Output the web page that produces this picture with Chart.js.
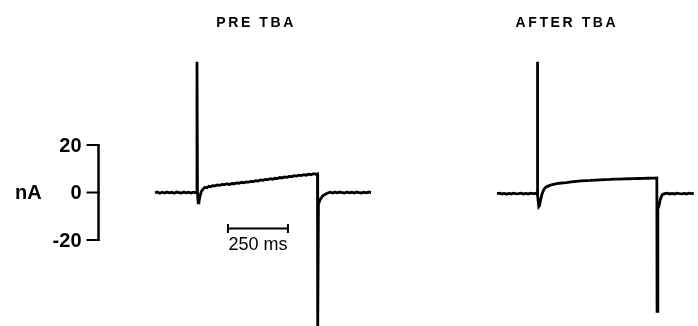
<!DOCTYPE html>
<html>
<head>
<meta charset="utf-8">
<script src="https://cdn.jsdelivr.net/npm/chart.js@4/dist/chart.umd.min.js"></script>
<style>
  html, body { margin: 0; padding: 0; background: #fff; }
  canvas { display: block; }
</style>
</head>
<body>
<canvas id="traces" width="698" height="326"></canvas>
<script>
// Whole-cell current sweeps (nA) against time (ms from sweep start)
const preTime = [
  0, 10, 20, 30, 40, 50, 60, 70, 80, 90, 100, 110, 120, 130, 140, 150, 160, 170,
  174, 175, 177, 180, 183, 187, 193, 200, 208, 216, 224, 232, 240, 250, 260, 270,
  280, 290, 300, 310, 320, 330, 340, 350, 360, 370, 380, 390, 400, 410, 420, 430,
  440, 450, 460, 470, 480, 490, 500, 510, 520, 530, 540, 550, 560, 570, 580, 590,
  600, 610, 620, 630, 640, 650, 660, 670, 677, 678, 681, 688, 698, 708, 720, 730,
  740, 750, 760, 770, 780, 790, 800, 810, 820, 830, 840, 850, 860, 870, 880, 890, 900
];
const preCurrent = [
  -0.1, 0.2, -0.3, 0.1, -0.2, 0.2, -0.1, 0.1, -0.3, 0.2, 0, -0.2, 0.2, -0.1, 0.1, -0.2, 0.1, 0,
  -0.1, 55, 0, -4.4, -4.0, -1.8, 0.4, 1.4, 2.2, 2.0, 2.6, 2.4, 2.9, 2.8, 3.2, 3.0,
  3.4, 3.3, 3.6, 3.4, 3.8, 3.7, 4.0, 3.9, 4.3, 4.1, 4.5, 4.4, 4.7, 4.6, 5.0, 4.8,
  5.3, 5.1, 5.5, 5.4, 5.8, 5.6, 6.0, 5.9, 6.3, 6.2, 6.6, 6.4, 6.8, 6.7, 7.1, 6.9,
  7.3, 7.1, 7.5, 7.3, 7.7, 7.5, 7.9, 7.7, 7.9, -58, -5.0, -3.0, -1.5, -0.8, -0.2, 0.1,
  -0.2, 0.2, -0.1, 0.2, 0, -0.2, 0.2, -0.1, 0.1, -0.2, 0.2, 0, -0.2, 0.1, -0.1, 0.2, 0
];

const afterTime = [
  0, 10, 20, 30, 40, 50, 60, 70, 80, 90, 100, 110, 120, 130, 140, 150, 160,
  167, 168, 170, 174, 177, 182, 188, 194, 200, 208, 218, 230, 245, 260, 275, 290,
  310, 330, 350, 370, 390, 410, 430, 450, 470, 490, 510, 530, 550, 570, 590, 610,
  630, 650, 666, 667, 670, 675, 680, 688, 698,
  710, 720, 730, 740, 750, 760, 770, 780, 790, 800, 810, 820, 830, 840
];
const afterCurrent = [
  -0.5, -0.3, -0.6, -0.4, -0.7, -0.4, -0.6, -0.3, -0.6, -0.5, -0.3, -0.6, -0.4, -0.6, -0.3, -0.5, -0.4,
  -0.5, 55, -1, -5.9, -5.5, -3.0, -0.5, 1.0, 1.9, 2.5, 2.9, 3.3, 3.6, 3.9, 4.1, 4.2,
  4.5, 4.7, 4.9, 5.0, 5.1, 5.25, 5.35, 5.45, 5.5, 5.6, 5.65, 5.75, 5.8, 5.85, 5.9, 5.95,
  6.0, 6.05, 6.1, -50, -7, -5.5, -3.0, -1.0, -0.5,
  -0.3, -0.6, -0.4, -0.6, -0.3, -0.5, -0.6, -0.4, -0.6, -0.3, -0.5, -0.4
];

const sweepTitles = ['PRE TBA', 'AFTER TBA'];
const yTickValues = [20, 0, -20];
const yUnit = 'nA';
const timeBarMs = 250;
const timeBarLabel = '250 ms';

// Second sweep is laid out to the right of the first on one shared time axis
const AFTER_OFFSET = 1425;

const toPoints = (ts, vs, shift) => ts.map((t, i) => ({ x: t + shift, y: vs[i] }));

const INK = '#000';

const annotations = {
  id: 'recordingAnnotations',
  afterDatasetsDraw(chart) {
    const { ctx } = chart;
    const xs = chart.scales.x;
    const ys = chart.scales.y;
    ctx.save();
    ctx.fillStyle = INK;
    ctx.strokeStyle = INK;

    // Sweep titles
    ctx.font = 'bold 14px "Liberation Sans", Arial, sans-serif';
    ctx.textAlign = 'center';
    ctx.textBaseline = 'middle';
    if ('letterSpacing' in ctx) ctx.letterSpacing = '2.6px';
    ctx.fillText(sweepTitles[0], xs.getPixelForValue(417) + 1, 23);
    ctx.fillText(sweepTitles[1], xs.getPixelForValue(AFTER_OFFSET + 287) + 1, 23);
    if ('letterSpacing' in ctx) ctx.letterSpacing = '0px';

    // Current calibration bar
    const barX = Math.round(xs.getPixelForValue(-237)) + 0.5;
    const yTop = ys.getPixelForValue(yTickValues[0]);
    const yBot = ys.getPixelForValue(yTickValues[yTickValues.length - 1]);
    ctx.lineWidth = 2.5;
    ctx.lineCap = 'butt';
    ctx.beginPath();
    ctx.moveTo(barX, yTop - 1);
    ctx.lineTo(barX, yBot + 1);
    ctx.stroke();
    ctx.lineWidth = 2;
    ctx.font = 'bold 20px "Liberation Sans", Arial, sans-serif';
    ctx.textAlign = 'right';
    yTickValues.forEach(v => {
      const py = ys.getPixelForValue(v);
      ctx.beginPath();
      ctx.moveTo(barX - 12, py);
      ctx.lineTo(barX + 1, py);
      ctx.stroke();
      ctx.fillText(String(v), barX - 17, py + 1);
    });
    ctx.textAlign = 'left';
    ctx.fillText(yUnit, 15, ys.getPixelForValue(0) + 1);

    // Time calibration bar
    const tx0 = xs.getPixelForValue(304);
    const tx1 = xs.getPixelForValue(304 + timeBarMs);
    const ty = Math.round(ys.getPixelForValue(-15)) + 0.5;
    ctx.lineWidth = 2;
    ctx.beginPath();
    ctx.moveTo(tx0, ty);
    ctx.lineTo(tx1, ty);
    ctx.moveTo(tx0, ty - 4.5);
    ctx.lineTo(tx0, ty + 4.5);
    ctx.moveTo(tx1, ty - 4.5);
    ctx.lineTo(tx1, ty + 4.5);
    ctx.stroke();
    ctx.font = '18px "Liberation Sans", Arial, sans-serif';
    ctx.textAlign = 'center';
    ctx.fillText(timeBarLabel, (tx0 + tx1) / 2, ty + 17);

    ctx.restore();
  }
};

new Chart(document.getElementById('traces'), {
  type: 'line',
  data: {
    datasets: [
      {
        label: sweepTitles[0],
        data: toPoints(preTime, preCurrent, 0),
        borderColor: INK,
        borderWidth: 2.8,
        pointRadius: 0,
        tension: 0,
        fill: false
      },
      {
        label: sweepTitles[1],
        data: toPoints(afterTime, afterCurrent, AFTER_OFFSET),
        borderColor: INK,
        borderWidth: 2.8,
        pointRadius: 0,
        tension: 0,
        fill: false
      }
    ]
  },
  options: {
    responsive: false,
    animation: false,
    events: [],
    layout: { padding: 0 },
    scales: {
      x: { type: 'linear', min: -645.8, max: 2262.5, display: false },
      y: { type: 'linear', min: -56.2, max: 81.05, display: false }
    },
    plugins: {
      legend: { display: false },
      title: { display: false },
      tooltip: { enabled: false }
    }
  },
  plugins: [annotations]
});
</script>
</body>
</html>
